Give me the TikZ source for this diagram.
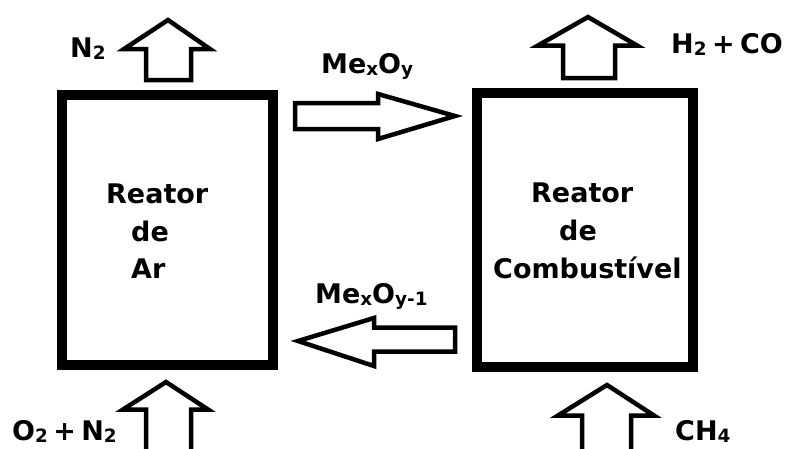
\documentclass[tikz,border=0pt]{standalone}
\usepackage{fontspec}
\usepackage{graphicx}
\setmainfont{DejaVu Sans}
\newcommand\lowsub[1]{\raisebox{-0.1em}{\scalebox{0.68}{#1}}}
\newcommand\plsp{\hspace{0.2em}+\hspace{0.2em}}
\begin{document}
\begin{tikzpicture}[x=1pt,y=-1pt,
  reactor/.style={draw=black,line width=10pt,line join=miter},
  blockarrow/.style={draw=black,fill=white,line width=4.5pt,line join=miter},
  lbl/.style={anchor=base west,inner sep=0pt,font=\fontsize{27}{32}\selectfont\bfseries}]
\useasboundingbox (0,0) rectangle (787,448);
\clip (0,0) rectangle (787,448);
% reactors
\draw[reactor] (62,95) rectangle (273,364.5);
\draw[reactor] (477,93) rectangle (693,367);
% top-left arrow (N2 out)
\draw[blockarrow] (146,80) -- (146,49) -- (124,49) -- (168,20) -- (210,49) -- (191,49) -- (191,80) -- cycle;
% top-right arrow (H2 + CO out)
\draw[blockarrow] (563,78) -- (563,45.5) -- (538,45.5) -- (588,17) -- (637,45.5) -- (615,45.5) -- (615,78) -- cycle;
% bottom-left arrow (O2 + N2 in)
\draw[blockarrow] (146,460) -- (146,409.5) -- (123,409.5) -- (166,382) -- (208,409.5) -- (191,409.5) -- (191,460);
% bottom-right arrow (CH4 in)
\draw[blockarrow] (582,460) -- (582,415.5) -- (558,415.5) -- (607,385) -- (654,415.5) -- (631,415.5) -- (631,460);
% right-pointing arrow (MexOy)
\draw[blockarrow] (295,103) -- (378,103) -- (378,94) -- (455,116) -- (378,139) -- (378,129) -- (295,129) -- cycle;
% left-pointing arrow (MexOy-1)
\draw[blockarrow] (455,327.5) -- (374,327.5) -- (374,318) -- (298,341) -- (374,366) -- (374,351.5) -- (455,351.5) -- cycle;
% labels
\node[lbl] (n2) at (70,57) {N\lowsub{2}};
\node[lbl] (meo) at (321,73) {Me\lowsub{x}O\lowsub{y}};
\node[lbl,anchor=base east] (h2co) at (783,53) {H\lowsub{2}\plsp CO};
\node[lbl] (meo1) at (315,303) {Me\lowsub{x}O\lowsub{y-1}};
\node[lbl] (o2n2) at (12,440) {O\lowsub{2}\plsp N\lowsub{2}};
\node[lbl] (ch4) at (675,440) {CH\lowsub{4}};
\node[lbl] (ra1) at (106,203) {Reator};
\node[lbl] (ra2) at (131,241) {de};
\node[lbl] (ra3) at (131,278) {Ar};
\node[lbl] (rc1) at (531,202) {Reator};
\node[lbl] (rc2) at (559,240) {de};
\node[lbl] (rc3) at (493,278) {Combustível};
\end{tikzpicture}
\end{document}
